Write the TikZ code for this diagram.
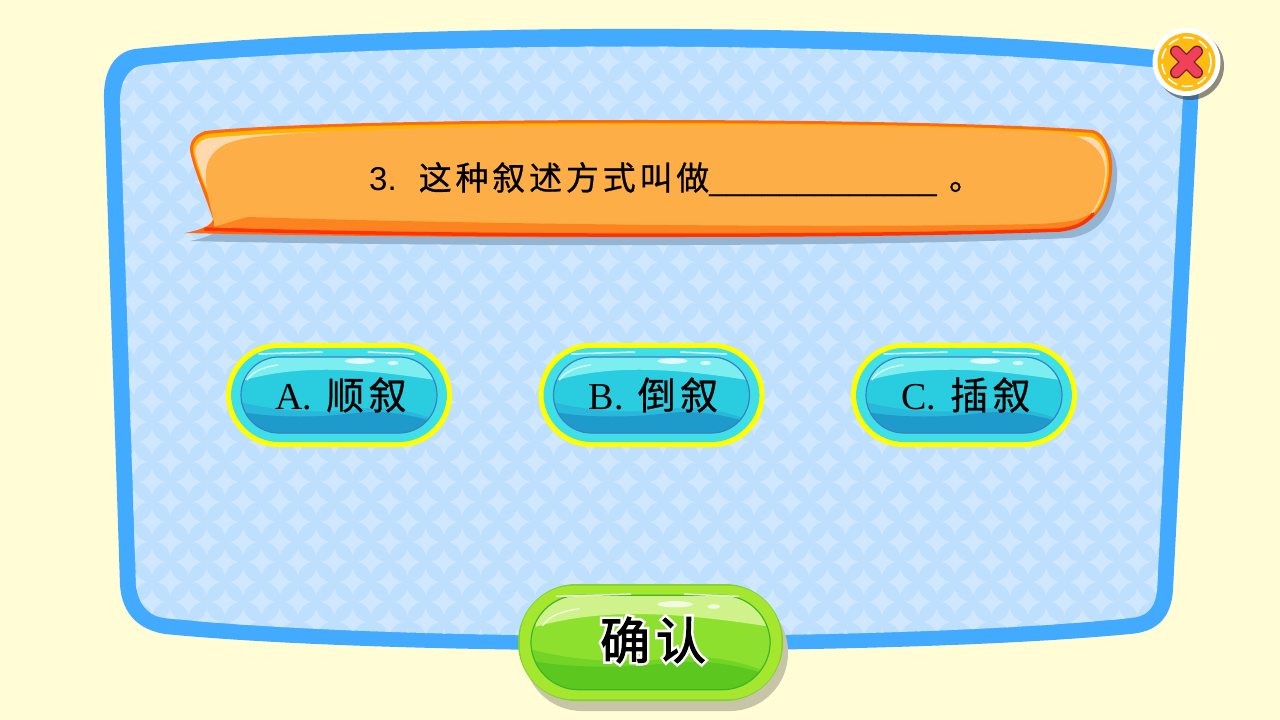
\documentclass[tikz,border=0pt]{standalone}
\usepackage{fontspec}
\setmainfont{Liberation Serif}
\newfontfamily\cjk[LetterSpace=11.5]{Noto Sans CJK SC}
\newfontfamily\numfont{Liberation Sans}
\definecolor{paper}{HTML}{FFFCD6}
\definecolor{frame}{HTML}{42ABFF}
\definecolor{tile}{HTML}{BFDFFF}
\definecolor{tilestar}{HTML}{D0E8FF}
\tikzset{
  label text/.style={text=black, inner sep=0pt},
  bubble line/.style={line width=3.5pt, draw=#1, line cap=round},
}
\newcommand{\bubblepath}{(185,233) .. controls (200,230) and (212,226) .. (213,219)
    .. controls (205,195) and (192,165) .. (190,150) .. controls (190,140) and (195,135) .. (205,131)
    .. controls (350,116.5) and (900,116.5) .. (1093,130)
    .. controls (1105,133) and (1113,150) .. (1112,170)
    .. controls (1110,205) and (1095,225) .. (1065,230)
    .. controls (850,240) and (400,238) .. (185,233) -- cycle}
% one glossy button, local box 226 x 104: outer and inner radius, rim, inset x and y
\newcommand{\jellybody}[5]{
  \fill[jrim, rounded corners=#1] (0,0) rectangle (226,104);
  \fill[jouter, rounded corners=#1-4] (#3,#3) rectangle (226-#3,104-#3);
  \begin{scope}
    \clip[rounded corners=#2] (#4,#5) rectangle (226-#4,104-#5);
    \fill[jbody] (0,0) rectangle (226,104);
    % light top, deep bottom
    \fill[jlite] (15,38) .. controls (70,22) and (130,24) .. (215,38) -- (215,0) -- (15,0) -- cycle;
    \fill[jmid] (10,58) .. controls (40,66) and (80,72) .. (130,66) .. controls (160,62) and (190,68) .. (216,80) -- (216,104) -- (10,104) -- cycle;
    \fill[jdeep] (10,68) .. controls (50,76) and (100,74) .. (130,70) .. controls (160,67) and (190,72) .. (216,82) -- (216,104) -- (10,104) -- cycle;
  \end{scope}
  \draw[jedge, line width=1.2pt, rounded corners=#2] (#4,#5) rectangle (226-#4,104-#5);
  % shine
  \draw[white, line width=1.5pt, opacity=.8, line cap=round] (33,11) -- (96,9);
  \draw[white, line width=1.5pt, opacity=.8, line cap=round] (142,9) -- (188,11);
  \fill[white, opacity=.75] (134,18) ellipse (15 and 2.8);
  \fill[white, opacity=.75] (167,20) ellipse (5.5 and 2);
  \draw[white, line width=1.2pt, opacity=.8, line cap=round] (21,37) .. controls (27,28) and (38,24) .. (52,22);
}
\begin{document}
\begin{tikzpicture}[x=1pt, y=-1pt]
  \useasboundingbox (0,0) rectangle (1280,720);
  \fill[paper] (0,0) rectangle (1280,720);
  % panel
  \fill[frame] (135,49) .. controls (400,22) and (880,22) .. (1155,50) -- (1185,53)
    .. controls (1197,55) and (1200,65) .. (1199,85) -- (1173,590)
    .. controls (1171,620) and (1155,632) .. (1130,634)
    .. controls (900,656) and (390,656) .. (165,634)
    .. controls (140,630) and (122,615) .. (120,585) -- (104,100)
    .. controls (103,70) and (115,52) .. (135,49) -- cycle;
  \begin{scope}
    \clip (145,65) .. controls (400,40) and (880,40) .. (1160,68) -- (1172,69)
      .. controls (1181,70) and (1184,80) .. (1183,95) -- (1157,590)
      .. controls (1155,610) and (1145,617) .. (1130,618)
      .. controls (900,642) and (390,642) .. (165,618)
      .. controls (150,617) and (138,605) .. (136,585) -- (120,105)
      .. controls (119,80) and (130,66) .. (145,65) -- cycle;
    \fill[tile] (100,20) rectangle (1210,660);
    \foreach \j in {-1,...,14}
      \foreach \i in {-2,...,29}
        \foreach \odd in {0,1}
          \fill[tilestar, shift={({152+36.5*\i+18.25*\odd},{82+40*\j+20*\odd})}]
            (0,-13) .. controls (3,-5) and (5,-3) .. (13,0)
            .. controls (5,3) and (3,5) .. (0,13)
            .. controls (-3,5) and (-5,3) .. (-13,0)
            .. controls (-5,-3) and (-3,-5) .. (0,-13) -- cycle;
  \end{scope}
  % bubble
  \definecolor{bshade}{HTML}{94B4D2}
  \fill[bshade, shift={(5,8)}] \bubblepath;
  \definecolor{bline}{HTML}{FF6A10}
  \definecolor{bgold}{HTML}{FFB400}
  \definecolor{bpeach}{HTML}{FFD9AE}
  \definecolor{bmain}{HTML}{FDAE47}
  \definecolor{bdark}{HTML}{FB8420}
  \definecolor{bred}{HTML}{FF3300}
  \fill[bline] \bubblepath;
  \fill[bgold] (193,150) .. controls (193,141) and (198,137) .. (207,134)
    .. controls (350,119.5) and (900,119.5) .. (1092,133)
    .. controls (1102,136) and (1109,150) .. (1109,170)
    .. controls (1107,205) and (1092,224) .. (1065,228)
    .. controls (850,236) and (400,234) .. (215,227)
    .. controls (218,222) and (216,215) .. (213,207)
    .. controls (206,190) and (195,165) .. (193,150) -- cycle;
  \fill[bpeach] (195,152) .. controls (195,144) and (201,140) .. (209,138)
    .. controls (350,124) and (900,124) .. (1090,137)
    .. controls (1100,140) and (1107,150) .. (1107,170)
    .. controls (1105,205) and (1090,224) .. (1065,228)
    .. controls (850,236) and (400,234) .. (215,227)
    .. controls (218,222) and (216,215) .. (214,207)
    .. controls (207,190) and (197,165) .. (195,152) -- cycle;
  \fill[bmain] (214,222) .. controls (208,195) and (200,170) .. (212,155)
    .. controls (225,138) and (250,137) .. (300,133)
    .. controls (500,122) and (900,122) .. (1067,133)
    .. controls (1090,140) and (1104,150) .. (1105,170)
    .. controls (1105,190) and (1098,205) .. (1088,216)
    .. controls (1075,226) and (1060,228) .. (1040,229)
    .. controls (800,236) and (400,234) .. (214,226) -- cycle;
  \fill[bdark] (248,217) .. controls (500,225) and (850,228) .. (1040,224)
    .. controls (1070,222) and (1080,220) .. (1090,214)
    .. controls (1085,225) and (1075,229) .. (1060,230)
    .. controls (800,237) and (400,235) .. (213,227)
    .. controls (225,224) and (235,220) .. (248,217) -- cycle;
  \draw[bubble line=bred] (205,229) .. controls (400,236) and (850,238) .. (1060,230)
    .. controls (1075,228) and (1085,224) .. (1093,214);
  % question
  \node[label text, anchor=base west] (question) at (369,190) {\fontsize{33}{33}\selectfont\numfont 3.\hspace{22pt}\cjk\addfontfeature{FakeBold=.6}这种叙述方式叫做{\numfont\fontsize{31.5}{31.5}\selectfont\_\_\_\_\_\_\_\_\_\_\_\_\_}\hspace{12pt}。};
  % answers
  \definecolor{jrim}{HTML}{FFFF00}
  \definecolor{jouter}{HTML}{3FDFE8}
  \definecolor{jbody}{HTML}{2ACDE0}
  \definecolor{jlite}{HTML}{7DEEF0}
  \definecolor{jmid}{HTML}{28B8DA}
  \definecolor{jdeep}{HTML}{1E9BCB}
  \definecolor{jedge}{HTML}{3A80C0}
  \foreach \xs/\nm/\lab/\txt in {226/optA/A./顺叙, 538.5/optB/B./倒叙, 851/optC/C./插叙} {
    \begin{scope}[shift={(\xs,343)}]
      \jellybody{52}{38}{5}{15}{14}
      \node[label text] (\nm) at (115,52) {\fontsize{38}{38}\selectfont\lab\hspace{14pt}{\cjk\addfontfeature{FakeBold=.6}\txt}};
    \end{scope}
  }
  % confirm
  \fill[black!22!paper, rounded corners=58] (524,594) rectangle (788,711);
  \definecolor{jrim}{HTML}{84D030}
  \definecolor{jouter}{HTML}{A5E62E}
  \definecolor{jbody}{HTML}{8EE02E}
  \definecolor{jlite}{HTML}{CFF28A}
  \definecolor{jmid}{HTML}{74D426}
  \definecolor{jdeep}{HTML}{5CC71E}
  \definecolor{jedge}{HTML}{3FB52A}
  \begin{scope}[shift={(518,584)}, xscale=1.173, yscale=1.125]
    \jellybody{58}{48}{1.5}{11}{10}
  \end{scope}
  \node[label text] (confirm) at (653,640) {\fontsize{50}{50}\selectfont\cjk\rlap{\color{white}\addfontfeature{FakeBold=12}确认}\addfontfeature{FakeBold=2}确认};
  % close
  \fill[black!75, opacity=.6] (1190,66) circle (34);
  \fill[white] (1186.5,62) circle (34);
  \definecolor{cgold}{HTML}{FDBB14}
  \definecolor{cred}{HTML}{F0405A}
  \fill[cgold] (1186.5,62) circle (29);
  \draw[white, line width=1.5pt, dash pattern=on 11pt off 5pt] (1186.5,62) circle (24.5);
  \coordinate (xa) at (1176,51.5);
  \coordinate (xb) at (1197,72.5);
  \coordinate (xc) at (1197,51.5);
  \coordinate (xd) at (1176,72.5);
  \draw[black!55!cred, line width=12pt, line cap=round] (xa) -- (xb) (xc) -- (xd);
  \draw[cred, line width=9.5pt, line cap=round] (xa) -- (xb) (xc) -- (xd);
\end{tikzpicture}
\end{document}
